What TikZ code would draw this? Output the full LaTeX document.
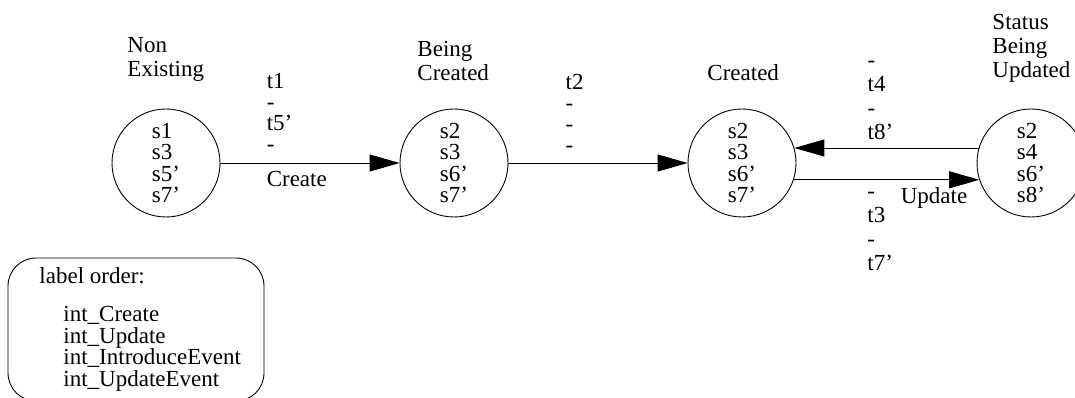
\documentclass[tikz,border=0pt]{standalone}
\usepackage{fontspec}
\setmainfont{Liberation Serif}
\usetikzlibrary{arrows.meta}

\begin{document}
\begin{tikzpicture}[x=1pt, y=1pt, line width=0.9pt, >={Triangle[length=30pt,width=17pt]},
    state/.style={circle, draw, minimum size=108pt, inner sep=0pt, align=left, font=\fontsize{23}{21.4}\selectfont},
    title/.style={anchor=south west, inner sep=0pt, align=left, font=\fontsize{23}{24}\selectfont},
    lbl/.style={inner sep=0pt, align=left, font=\fontsize{23}{21}\selectfont},
    lblwide/.style={lbl, font=\fontsize{23}{24}\selectfont}]
    \useasboundingbox (0,0) rectangle (1075,398);
    % states
    \node[state] (ne) at (166,235) {s1\\s3\\s5'\\s7'};
    \node[state] (bc) at (454,235) {s2\\s3\\s6'\\s7'};
    \node[state] (cr) at (742,235) {s2\\s3\\s6'\\s7'};
    \node[state] (su) at (1031,235) {s2\\s4\\s6'\\s8'};
    % state names
    \node[title] (ne-name) at ([shift={(-39,27)}]ne.north) {Non\\Existing};
    \node[title] (bc-name) at ([shift={(-37,27)}]bc.north) {Being\\Created};
    \node[title] (cr-name) at ([shift={(-35,27)}]cr.north) {Created};
    \node[title] (su-name) at ([shift={(-39,26)}]su.north) {Status\\Being\\Updated};
    % transitions
    \draw[->] (ne) -- (bc)
        node[lbl, pos=0.256, anchor=south west, yshift=11pt] (ne-bc-up) {t1\\-\\t5'\\-}
        node[lbl, pos=0.256, anchor=base west, yshift=-24pt] (ne-bc-down) {Create};
    \draw[->] (bc) -- (cr)
        node[lbl, pos=0.317, anchor=south west, yshift=10pt] (bc-cr-up) {t2\\-\\-\\-};
    \draw[->] (su.164) -- (cr.16)
        node[lblwide, pos=0.605, anchor=south west, yshift=8pt] (su-cr-up) {-\\t4\\-\\t8'};
    \draw[->] (cr.-18) -- (su.198)
        node[lblwide, pos=0.395, anchor=north west, yshift=-12pt] (cr-su-down) {-\\t3\\-\\t7'}
        node[lbl, pos=0.938, anchor=base east, yshift=-24pt] (cr-su-name) {Update};
    % label order
    \node[draw, rounded corners=28pt, minimum width=256pt, minimum height=143pt] (key) at (136,68.5) {};
    \node[lbl, anchor=north west, font=\fontsize{23}{21.7}\selectfont] (key-text) at (39,130.7)
        {label order:\\[16pt]\hspace*{24pt}int\_Create\\\hspace*{24pt}int\_Update\\\hspace*{24pt}int\_IntroduceEvent\\\hspace*{24pt}int\_UpdateEvent};
\end{tikzpicture}
\end{document}
